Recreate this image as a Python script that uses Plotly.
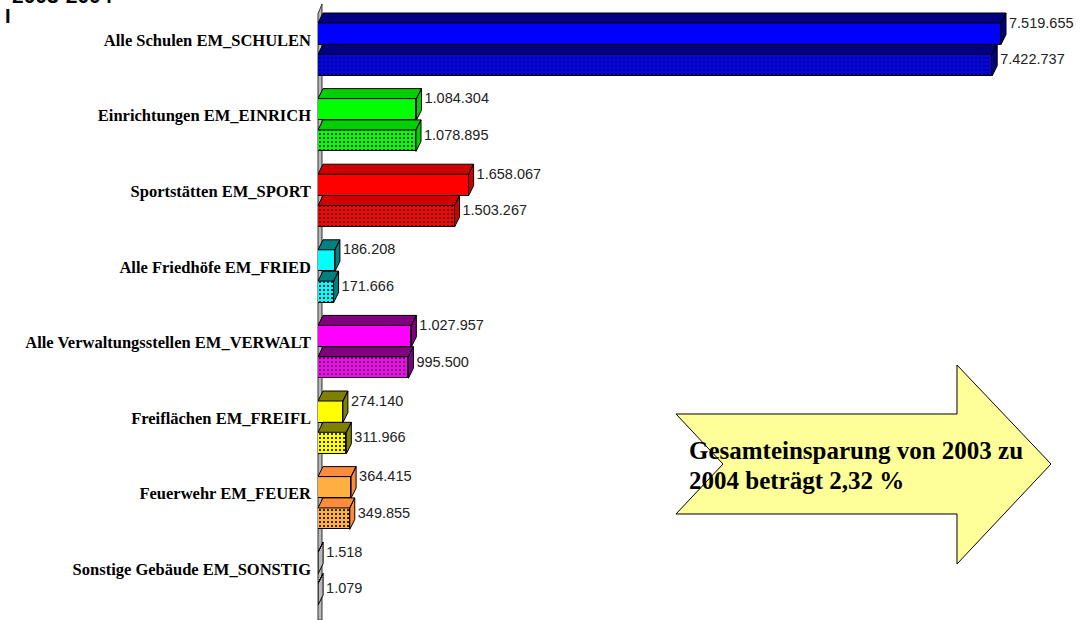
import plotly.graph_objects as go

categories = ["Alle Schulen EM_SCHULEN", "Einrichtungen EM_EINRICH", "Sportstätten EM_SPORT",
              "Alle Friedhöfe EM_FRIED", "Alle Verwaltungsstellen EM_VERWALT", "Freiflächen EM_FREIFL",
              "Feuerwehr EM_FEUER", "Sonstige Gebäude EM_SONSTIG"]
values_2003 = [7519655, 1084304, 1658067, 186208, 1027957, 274140, 364415, 1518]
values_2004 = [7422737, 1078895, 1503267, 171666, 995500, 311966, 349855, 1079]
front_colors = ["#0000ff", "#00ff00", "#ff0000", "#00ffff", "#ff00ff", "#ffff00", "#ffb040", "#b8b8b8"]
depth_colors = ["#000080", "#00d000", "#d00000", "#008080", "#800080", "#808000", "#ff8c3c", "#b8b8b8"]

W, H = 1081, 620
X0 = 318
PX_PER_UNIT = 683 / 7519655
GROUP_PX = 75.6
Y0 = 49.5
DX = 5 / PX_PER_UNIT
DY = 10 / GROUP_PX
BAR = 21.5 / GROUP_PX
OFF1 = -26.5 / GROUP_PX
OFF2 = 4.8 / GROUP_PX
LABEL_GAP = 3 / PX_PER_UNIT


def fmt(v):
    return f"{v:,}".replace(",", ".")


idx = list(range(len(categories)))
fig = go.Figure()

# one trace per bar: a scalar marker colour keeps the pattern's black foreground
for vals, off, pat in ((values_2003, OFF1, ""), (values_2004, OFF2, ".")):
    for i, v in enumerate(vals):
        fig.add_trace(go.Bar(
            orientation="h", y=[i], x=[v], width=BAR, offset=off,
            marker=dict(color=front_colors[i], line=dict(color="#000000", width=1),
                        pattern=dict(shape=pat, bgcolor=front_colors[i], fgcolor="#000000",
                                     fgopacity=1, size=4, solidity=0.22)),
            showlegend=False))

# 3D top and side faces computed from the values
for vals, off in ((values_2003, OFF1), (values_2004, OFF2)):
    for i, v in enumerate(vals):
        t, b = i + off, i + off + BAR
        fig.add_trace(go.Scatter(
            x=[0, v, v + DX, DX, 0, None, v, v + DX, v + DX, v, v],
            y=[t, t, t - DY, t - DY, t, None, t, t - DY, b - DY, b, t],
            mode="lines", fill="toself", fillcolor=depth_colors[i],
            line=dict(color="#000000", width=1), hoverinfo="skip", showlegend=False))

# value labels
for vals, lab_off in ((values_2003, (24 - Y0) / GROUP_PX), (values_2004, (60.5 - Y0) / GROUP_PX)):
    fig.add_trace(go.Scatter(
        x=[v + DX + LABEL_GAP for v in vals], y=[i + lab_off for i in idx], mode="text",
        text=[fmt(v) for v in vals], textposition="middle right",
        textfont=dict(family="Liberation Sans", size=14.5, color="#222222"),
        hoverinfo="skip", showlegend=False))


def px(x):
    return (x - X0) / (W - X0)


def py(y):
    return 1 - y / H


def poly(points):
    return "M" + " L".join(f"{px(x):.5f} {py(y):.5f}" for x, y in points) + " Z"


wall = poly([(318, 14), (322, 4), (322, 620), (318, 620)])
arrow = poly([(676, 414), (957, 414), (957, 365), (1051, 464), (957, 564), (957, 514), (676, 514), (723, 464)])

fig.update_layout(
    width=W, height=H, margin=dict(l=X0, r=0, t=0, b=0),
    paper_bgcolor="#ffffff", plot_bgcolor="#ffffff", showlegend=False, bargap=0, barmode="overlay",
    xaxis=dict(range=[0, (W - X0) / PX_PER_UNIT], visible=False, fixedrange=True),
    yaxis=dict(range=[(H - Y0) / GROUP_PX, -Y0 / GROUP_PX], fixedrange=True,
               tickmode="array", tickvals=[i - 9.5 / GROUP_PX for i in idx], ticktext=categories,
               tickfont=dict(family="Liberation Serif", size=16.5, color="#000000", weight="bold"),
               ticks="", showgrid=False, zeroline=False, showline=False, ticklabelstandoff=6),
    shapes=[
        dict(type="path", xref="paper", yref="paper", path=wall, fillcolor="#b8b8b8",
             line=dict(color="#303030", width=1), layer="below"),
        dict(type="path", xref="paper", yref="paper", path=arrow, fillcolor="#ffff99",
             line=dict(color="#000000", width=1), layer="above"),
    ],
    annotations=[
        dict(text="<b>2003-2004</b>", xref="paper", yref="paper", x=px(10), y=py(9), xanchor="left",
             yanchor="bottom", showarrow=False, font=dict(family="Liberation Sans", size=21, color="#000000")),
        dict(text="<b>I</b>", xref="paper", yref="paper", x=px(3), y=py(16), xanchor="left",
             yanchor="middle", showarrow=False, font=dict(family="Liberation Sans", size=20, color="#000000")),
        dict(text="<b>Gesamteinsparung von 2003 zu</b>", xref="paper", yref="paper", x=px(687), y=py(450),
             xanchor="left", yanchor="middle", showarrow=False,
             font=dict(family="Liberation Serif", size=25, color="#000000")),
        dict(text="<b>2004 beträgt 2,32 %</b>", xref="paper", yref="paper", x=px(687), y=py(480),
             xanchor="left", yanchor="middle", showarrow=False,
             font=dict(family="Liberation Serif", size=25, color="#000000")),
    ],
)

fig.write_html("out.html", config={"displayModeBar": False},
               post_script="document.body.style.margin='0';")
